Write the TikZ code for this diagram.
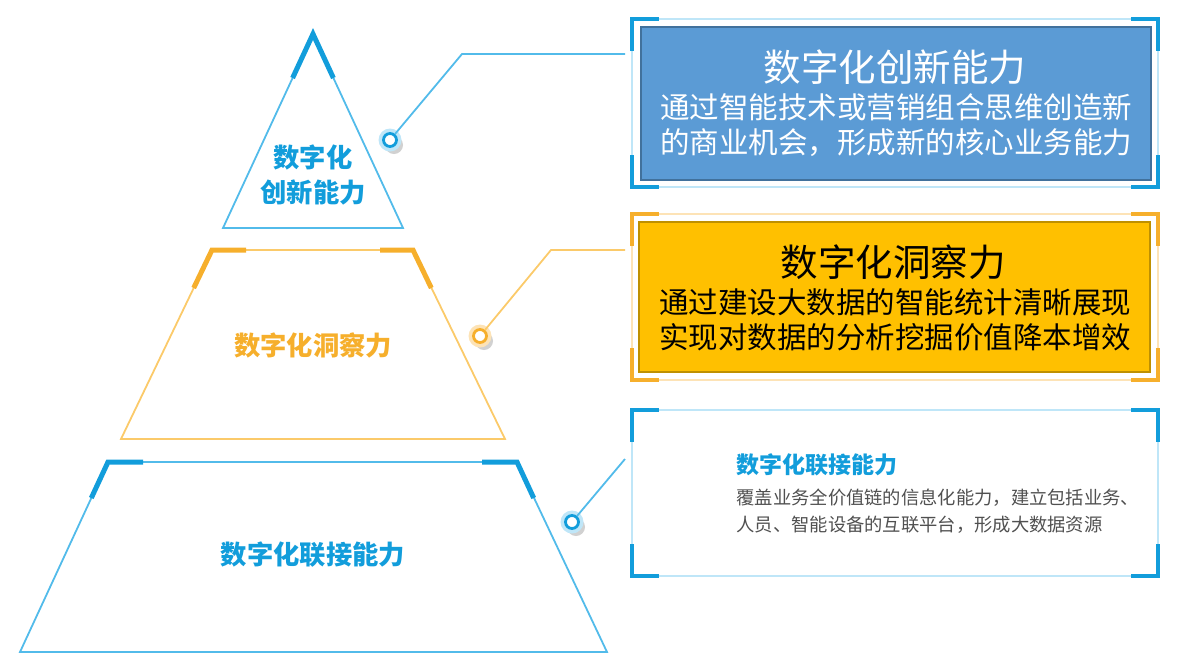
\documentclass[tikz,border=0pt]{standalone}
\usepackage{fontspec}
\newfontfamily\cjk{Noto Sans CJK SC}
\definecolor{capblue}{HTML}{129DDB}
\definecolor{lineblue}{HTML}{52BBEA}
\definecolor{paleblue}{HTML}{BFE6F8}
\definecolor{caporange}{HTML}{F6AF2C}
\definecolor{lineorange}{HTML}{FBCA6A}
\definecolor{paleorange}{HTML}{FDE3B6}
\definecolor{topfill}{HTML}{5B9BD5}
\definecolor{topedge}{HTML}{41719C}
\definecolor{midfill}{HTML}{FFC000}
\definecolor{midedge}{HTML}{BF9000}
\definecolor{bodygray}{HTML}{505050}
\tikzset{
  thinedge/.style={line width=1.8pt, line join=miter},
  accent/.style={line width=5pt, line join=miter},
  bracket/.style={line width=4pt, line join=miter},
  pin/.style={circle, draw, fill=white, line width=2.8pt, minimum size=13pt, inner sep=0pt},
  levellabel/.style={font=\cjk\bfseries\fontsize{26.3}{35}\selectfont, align=center},
  boxtitle/.style={font=\cjk\fontsize{37.5}{40}\selectfont},
  boxtext/.style={font=\cjk\fontsize{29.5}{35}\selectfont, align=center},
}
\begin{document}
\begin{tikzpicture}[x=1pt,y=-1pt]
  \useasboundingbox (0,0) rectangle (1181,665);
  % pyramid
  \draw[lineblue, thinedge] (313,34) -- (403,228) -- (223,228) -- cycle;
  \draw[capblue, accent] (292.6,78) -- (313,34) -- (333.4,78);
  \draw[lineorange, thinedge] (212,250) -- (413,250) -- (505,439) -- (121,439) -- cycle;
  \draw[caporange, accent] (193.7,288) -- (212,250) -- (246,250);
  \draw[caporange, accent] (380,250) -- (413,250) -- (431.3,288);
  \draw[lineblue, thinedge] (108,462) -- (517,462) -- (607,652) -- (20,652) -- cycle;
  \draw[capblue, accent] (91.3,498) -- (108,462) -- (143,462);
  \draw[capblue, accent] (482,462) -- (517,462) -- (533.7,498);
  \node[levellabel, text=capblue] (innovlevel) at (313,175) {数字化\\创新能力};
  \node[levellabel, text=caporange] (insightlevel) at (313,345) {数字化洞察力};
  \node[levellabel, text=capblue] (linklevel) at (313,555) {数字化联接能力};

  % pins and leader lines
  \fill[black, opacity=0.18] (394,145) circle (9);
  \fill[paleblue] (390,140) circle (11.5);
  \fill[black, opacity=0.18] (484,341) circle (9);
  \fill[paleorange] (480,336) circle (11.5);
  \fill[black, opacity=0.18] (576,527) circle (9);
  \fill[paleblue] (572,522) circle (11.5);
  \node[pin, draw=capblue] (innovpin) at (390,140) {};
  \node[pin, draw=caporange] (insightpin) at (480,336) {};
  \node[pin, draw=capblue] (linkpin) at (572,522) {};
  \coordinate (innovknee) at (462,54);
  \coordinate (innovend) at (625,54);
  \coordinate (insightknee) at (551,250);
  \coordinate (insightend) at (625,250);
  \coordinate (linkend) at (625,459);
  \draw[lineblue, thinedge] (innovpin) -- (innovknee) -- (innovend);
  \draw[lineorange, thinedge] (insightpin) -- (insightknee) -- (insightend);
  \draw[lineblue, thinedge] (linkpin) -- (linkend);

  % framed boxes
  \draw[paleblue, line width=1.5pt] (632,19) rectangle (1158,187);
  \draw[capblue, bracket] (632,51) |- (659,19);
  \draw[capblue, bracket] (1131,19) -| (1158,51);
  \draw[capblue, bracket] (632,155) |- (659,187);
  \draw[capblue, bracket] (1131,187) -| (1158,155);
  \node[fill=topfill, draw=topedge, line width=2pt, minimum width=510pt, minimum height=153pt]
    (innovbox) at (895.5,103.5) {};
  \node[boxtitle, text=white] (innovtitle) at (895,67) {数字化创新能力};
  \node[boxtext, text=white] (innovtext) at (896,125) {通过智能技术或营销组合思维创造新\\的商业机会，形成新的核心业务能力};

  \draw[paleorange, line width=1.5pt] (632,214) rectangle (1158,380);
  \draw[caporange, bracket] (632,246) |- (659,214);
  \draw[caporange, bracket] (1131,214) -| (1158,246);
  \draw[caporange, bracket] (632,348) |- (659,380);
  \draw[caporange, bracket] (1131,380) -| (1158,348);
  \node[fill=midfill, draw=midedge, line width=2pt, minimum width=511pt, minimum height=150pt]
    (insightbox) at (894.5,297) {};
  \node[boxtitle, text=black] (insighttitle) at (893,262) {数字化洞察力};
  \node[boxtext, text=black] (insighttext) at (895,320) {通过建设大数据的智能统计清晰展现\\实现对数据的分析挖掘价值降本增效};

  \draw[paleblue, line width=1.5pt] (632,410) rectangle (1158,576);
  \draw[capblue, bracket] (632,442) |- (659,410);
  \draw[capblue, bracket] (1131,410) -| (1158,442);
  \draw[capblue, bracket] (632,544) |- (659,576);
  \draw[capblue, bracket] (1131,576) -| (1158,544);
  \node[anchor=west, text=capblue, font=\cjk\bfseries\fontsize{23}{28}\selectfont]
    (linktitle) at (733,465) {数字化联接能力};
  \node[anchor=west, text=bodygray, align=left, font=\cjk\fontsize{18.3}{27}\selectfont]
    (linktext) at (733,511) {覆盖业务全价值链的信息化能力，建立包括业务、\\人员、智能设备的互联平台，形成大数据资源};
\end{tikzpicture}
\end{document}
